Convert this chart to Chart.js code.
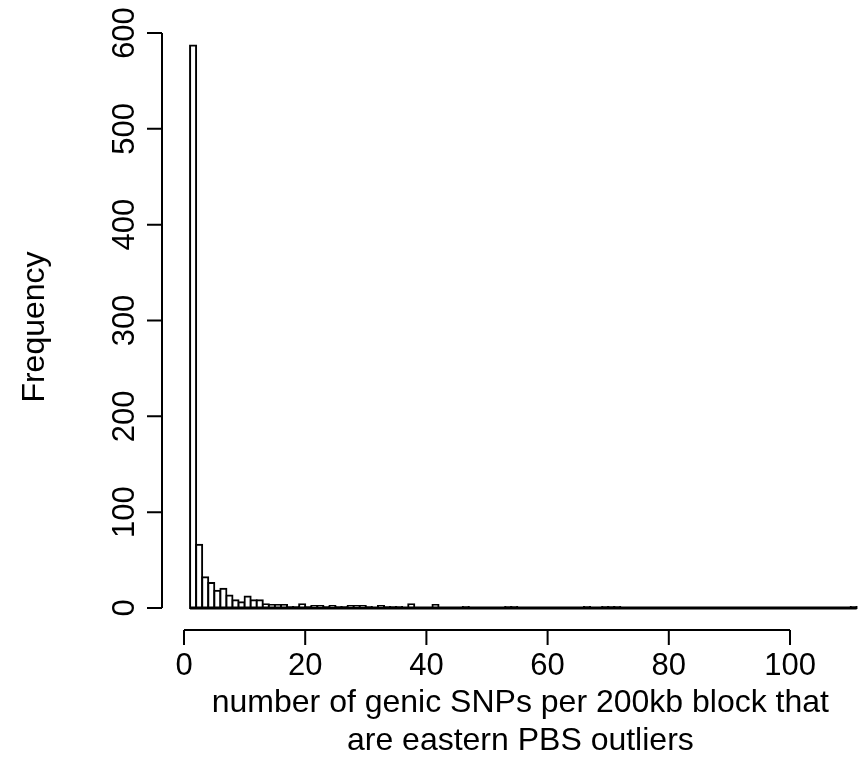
<!DOCTYPE html>
<html>
<head>
<meta charset="utf-8">
<script src="https://cdn.jsdelivr.net/npm/chart.js@4/dist/chart.umd.min.js"></script>
<style>
    html, body { margin: 0; padding: 0; background: #fff; overflow: hidden; }
    canvas { display: block; }
</style>
</head>
<body>
<canvas id="histChart" width="858" height="783"></canvas>
<script>
// 히스토그램 구간 (폭 1, 1 ~ 111)
const binStart = 1;
const binWidth = 1;

// 구간별 빈도 (구간 1-2 부터 110-111 까지)
const counts = [
    587, 66, 32, 26, 18, 20, 13, 8, 6, 12,   // 1-10
    8, 8, 4, 3, 3, 3, 1, 1, 4, 1,            // 11-20
    2, 2, 1, 2, 1, 1, 2, 2, 2, 1,            // 21-30
    0, 2, 1, 1, 1, 0, 4, 0, 0, 0,            // 31-40
    3, 0, 0, 0, 0, 1, 0, 0, 0, 0,            // 41-50
    0, 0, 1, 1, 0, 0, 0, 0, 0, 0,            // 51-60
    0, 0, 0, 0, 0, 1, 0, 0, 1, 1,            // 61-70
    1, 0, 0, 0, 0, 0, 0, 0, 0, 0,            // 71-80
    0, 0, 0, 0, 0, 0, 0, 0, 0, 0,            // 81-90
    0, 0, 0, 0, 0, 0, 0, 0, 0, 0,            // 91-100
    0, 0, 0, 0, 0, 0, 0, 0, 0, 1             // 101-110
];

// 축 눈금
const xTicks = [0, 20, 40, 60, 80, 100];
const yTicks = [0, 100, 200, 300, 400, 500, 600];

// 축 제목
const xTitle = ['number of genic SNPs per 200kb block that', 'are eastern PBS outliers'];
const yTitle = 'Frequency';

const TICK_FONT = '31px "Liberation Sans", Arial, Helvetica, sans-serif';
const TITLE_FONT = '32px "Liberation Sans", Arial, Helvetica, sans-serif';

const binEnd = binStart + counts.length * binWidth;

// R 스타일 축 그리기
const rAxes = {
    id: 'rAxes',
    afterDraw(chart) {
        const ctx = chart.ctx;
        const xs = chart.scales.x;
        const ys = chart.scales.y;
        const area = chart.chartArea;
        const axisY = area.bottom;
        const axisX = area.left;

        ctx.save();
        ctx.strokeStyle = '#000';
        ctx.fillStyle = '#000';
        ctx.lineWidth = 2;
        ctx.font = TICK_FONT;

        // x축
        const x0 = xs.getPixelForValue(xTicks[0]);
        const x1 = xs.getPixelForValue(xTicks[xTicks.length - 1]);
        ctx.beginPath();
        ctx.moveTo(x0, axisY);
        ctx.lineTo(x1, axisY);
        xTicks.forEach(v => {
            const px = xs.getPixelForValue(v);
            ctx.moveTo(px, axisY);
            ctx.lineTo(px, axisY + 15);
        });
        ctx.stroke();

        ctx.textAlign = 'center';
        ctx.textBaseline = 'middle';
        xTicks.forEach(v => {
            ctx.fillText(String(v), xs.getPixelForValue(v), axisY + 36);
        });

        // y축
        const y0 = ys.getPixelForValue(yTicks[0]);
        const y1 = ys.getPixelForValue(yTicks[yTicks.length - 1]);
        ctx.beginPath();
        ctx.moveTo(axisX, y0);
        ctx.lineTo(axisX, y1);
        yTicks.forEach(v => {
            const py = ys.getPixelForValue(v);
            ctx.moveTo(axisX, py);
            ctx.lineTo(axisX - 15, py);
        });
        ctx.stroke();

        yTicks.forEach(v => {
            ctx.save();
            ctx.translate(axisX - 37, ys.getPixelForValue(v));
            ctx.rotate(-Math.PI / 2);
            ctx.fillText(String(v), 0, 0);
            ctx.restore();
        });

        // 제목은 R 플롯 영역(데이터 범위 ±4%) 가운데
        ctx.font = TITLE_FONT;
        const midX = xs.getPixelForValue((binStart + binEnd) / 2) - 3;
        ctx.fillText(xTitle[0], midX, axisY + 73);
        ctx.fillText(xTitle[1], midX, axisY + 111);

        ctx.save();
        ctx.translate(35, (area.top + area.bottom) / 2);
        ctx.rotate(-Math.PI / 2);
        ctx.fillText(yTitle, 0, 0);
        ctx.restore();

        ctx.restore();
    }
};

const barData = counts
    .map((c, i) => ({ x: binStart + i * binWidth + binWidth / 2, y: c }))
    .filter(p => p.y > 0);

new Chart(document.getElementById('histChart'), {
    type: 'bar',
    data: {
        datasets: [{
            type: 'line',
            data: [{ x: binStart, y: 0 }, { x: binEnd, y: 0 }],
            borderColor: '#000',
            borderWidth: 3,
            pointRadius: 0,
            order: 0
        }, {
            data: barData,
            backgroundColor: '#fff',
            borderColor: '#000',
            borderWidth: 2,
            borderSkipped: false,
            inflateAmount: 1,
            barPercentage: 1,
            categoryPercentage: 1,
            grouped: false,
            order: 1
        }]
    },
    options: {
        responsive: false,
        animation: false,
        layout: { padding: { left: 162, right: 0, top: 24, bottom: 153 } },
        plugins: { legend: { display: false }, tooltip: { enabled: false } },
        scales: {
            x: { type: 'linear', display: false, offset: false, min: -3.63, max: 111.22 },
            y: { type: 'linear', display: false, min: -22.96, max: 609.4 }
        }
    },
    plugins: [rAxes]
});
</script>
</body>
</html>
